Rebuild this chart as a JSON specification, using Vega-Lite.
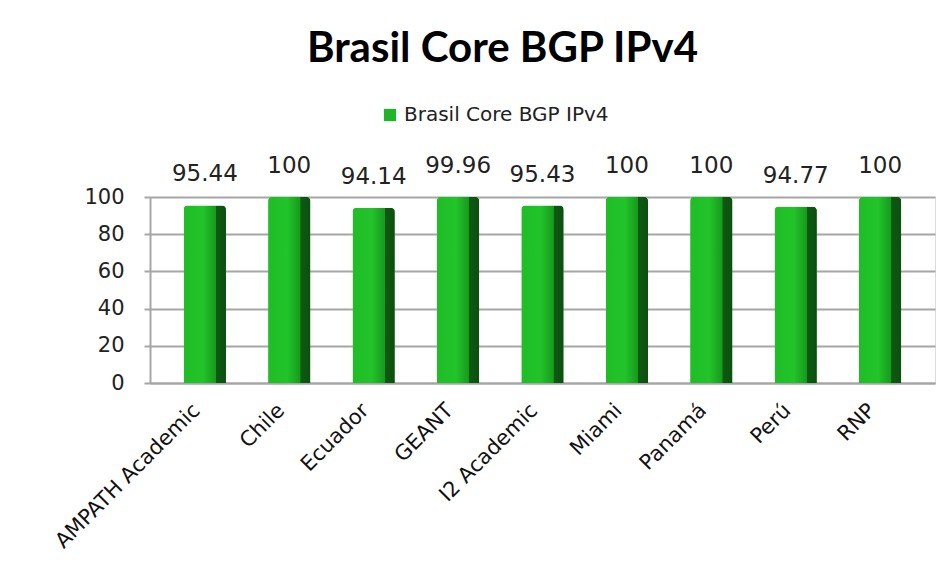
{
  "$schema": "https://vega.github.io/schema/vega-lite/v6.json",
  "autosize": "none",
  "width": 785,
  "height": 186,
  "padding": {"left": 150, "top": 197, "right": 14, "bottom": 183},
  "background": "white",
  "title": {
    "text": "Brasil Core BGP IPv4",
    "font": "Lato",
    "fontSize": 42,
    "fontWeight": "bold",
    "color": "#000000",
    "anchor": "middle",
    "dx": -40,
    "offset": 34
  },
  "data": {
    "values": [
      {"site": "AMPATH Academic", "value": 95.44, "series": "Brasil Core BGP IPv4"},
      {"site": "Chile", "value": 100, "series": "Brasil Core BGP IPv4"},
      {"site": "Ecuador", "value": 94.14, "series": "Brasil Core BGP IPv4"},
      {"site": "GEANT", "value": 99.96, "series": "Brasil Core BGP IPv4"},
      {"site": "I2 Academic", "value": 95.43, "series": "Brasil Core BGP IPv4"},
      {"site": "Miami", "value": 100, "series": "Brasil Core BGP IPv4"},
      {"site": "Panamá", "value": 100, "series": "Brasil Core BGP IPv4"},
      {"site": "Perú", "value": 94.77, "series": "Brasil Core BGP IPv4"},
      {"site": "RNP", "value": 100, "series": "Brasil Core BGP IPv4"}
    ]
  },
  "encoding": {
    "x": {
      "field": "site",
      "type": "nominal",
      "sort": null,
      "scale": {"paddingInner": 0.5, "paddingOuter": 0.4},
      "axis": {
        "title": null,
        "labelAngle": -45,
        "labelAlign": "right",
        "labelBaseline": "middle",
        "labelFont": "DejaVu Sans",
        "labelFontSize": 21,
        "labelColor": "#111111",
        "labelPadding": 24,
        "labelOffset": -8,
        "labelLimit": 300,
        "ticks": false,
        "domainColor": "#a6a6a6",
        "domainWidth": 2
      }
    },
    "y": {
      "field": "value",
      "type": "quantitative",
      "scale": {"domain": [0, 100]},
      "axis": {
        "title": null,
        "values": [0, 20, 40, 60, 80, 100],
        "labelFont": "DejaVu Sans",
        "labelFontSize": 21,
        "labelColor": "#222222",
        "labelPadding": 20,
        "tickColor": "#a6a6a6",
        "tickSize": 6,
        "tickWidth": 2,
        "domainColor": "#a6a6a6",
        "domainWidth": 2,
        "gridColor": "#a6a6a6",
        "gridWidth": 2
      }
    }
  },
  "layer": [
    {
      "mark": {
        "type": "bar",
        "cornerRadiusTopLeft": 4,
        "cornerRadiusTopRight": 4
      },
      "encoding": {
        "fill": {
          "field": "series",
          "type": "nominal",
          "scale": {"range": ["#1fb526"]},
          "legend": {
            "title": null,
            "orient": "none",
            "legendX": 230,
            "legendY": -92,
            "symbolType": "square",
            "symbolSize": 150,
            "labelFont": "DejaVu Sans",
            "labelFontSize": 20,
            "labelLimit": 400,
            "labelColor": "#222222"
          }
        }
      }
    },
    {
      "mark": {
        "type": "bar",
        "cornerRadiusTopLeft": 4,
        "cornerRadiusTopRight": 4,
        "color": {
          "gradient": "linear",
          "x1": 0, "y1": 0, "x2": 1, "y2": 0,
          "stops": [
            {"offset": 0, "color": "#1fbd26"},
            {"offset": 0.45, "color": "#22c42a"},
            {"offset": 0.76, "color": "#179a1d"},
            {"offset": 0.77, "color": "#0e5a12"},
            {"offset": 1, "color": "#0c4f10"}
          ]
        }
      }
    },
    {
      "mark": {
        "type": "text",
        "dy": -31,
        "font": "DejaVu Sans",
        "fontSize": 23,
        "color": "#222222",
        "baseline": "middle"
      },
      "encoding": {
        "text": {"field": "value", "type": "quantitative"}
      }
    }
  ]
}
